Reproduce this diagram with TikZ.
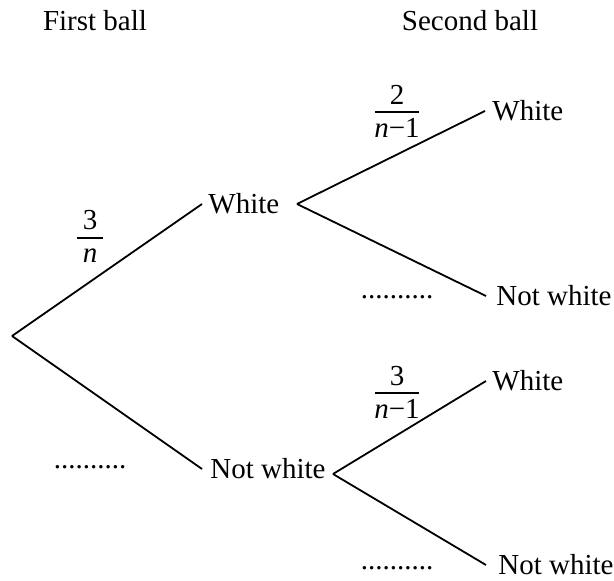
\documentclass[tikz,border=0pt]{standalone}
\usepackage{fontspec}
\setmainfont{Liberation Serif}
\begin{document}
\begin{tikzpicture}[x=0.5pt,y=-0.5pt,
  lbl/.style={inner sep=0pt,font=\fontsize{14.5}{17}\selectfont},
  leaf/.style={lbl,anchor=west,inner xsep=#1},
  fnum/.style={inner sep=0pt,anchor=base,font=\fontsize{14.5}{17}\selectfont},
  fbar/.style={line width=0.6pt},
  br/.style={line width=0.9pt}]
\useasboundingbox (0,0) rectangle (614,581);
\node[lbl] (h1) at (95,21) {First ball};
\node[lbl] (h2) at (470,21) {Second ball};
\coordinate (r) at (12,336);
\node[leaf=3pt] (w1) at (202,204) {White};
\node[leaf=4pt] (nw1) at (202,469) {Not white};
\coordinate (j1) at (297,204);
\coordinate (j2) at (333,474);
\node[leaf=3.5pt] (ww) at (485,111) {White};
\node[leaf=5pt] (wn) at (486,296) {Not white};
\node[leaf=3pt] (nw) at (486,381) {White};
\node[leaf=6pt] (nn) at (486,565) {Not white};
\draw[br] (r) -- (w1.west);
\draw[br] (r) -- (nw1.west);
\draw[br] (j1) -- (ww.west);
\draw[br] (j1) -- (wn.west);
\draw[br] (j2) -- (nw.west);
\draw[br] (j2) -- (nn.west);
% fraction 3/n
\node[fnum] (f1n) at (90,230) {3};
\node[fnum] (f1d) at (90,263) {\itshape n};
\draw[fbar] (77,238) -- (103,238);
% fraction 2/(n-1)
\node[fnum] (f2n) at (397,105) {2};
\node[fnum] (f2d) at (397,138) {\itshape n\upshape −1};
\draw[fbar] (375,112) -- (419,112);
% fraction 3/(n-1)
\node[fnum] (f3n) at (397,386) {3};
\node[fnum] (f3d) at (397,419) {\itshape n\upshape −1};
\draw[fbar] (375,393) -- (419,393);
\node[lbl] (d1) at (90,467) {..........};
\node[lbl] (d2) at (397,297) {..........};
\node[lbl] (d3) at (397,568) {..........};
\end{tikzpicture}
\end{document}
